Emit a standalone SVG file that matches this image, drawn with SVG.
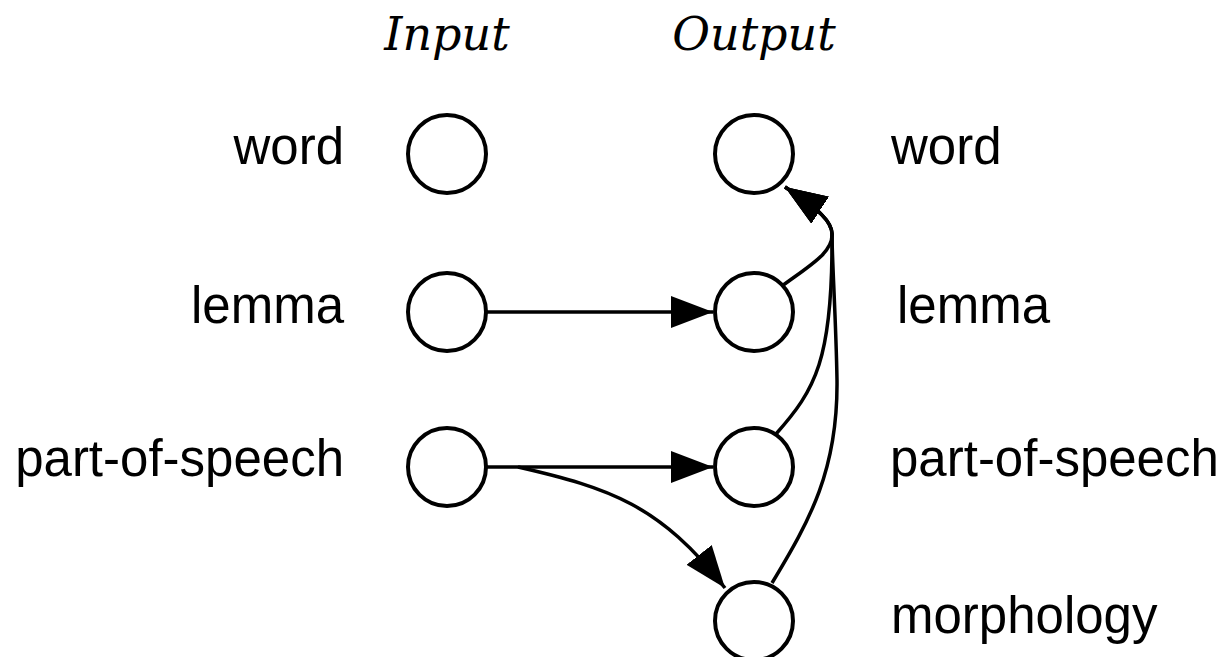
<svg xmlns="http://www.w3.org/2000/svg" width="1224" height="657" viewBox="0 0 1224 657">
<style>
.node circle{fill:#fff;stroke:#000;stroke-width:4}
.lbl{font-family:"Liberation Sans",Arial,sans-serif;font-size:51px;fill:#000}
.ttl{font-family:"DejaVu Serif",serif;font-style:italic;font-size:46px;fill:#000}
.edge{fill:none;stroke:#000;stroke-width:3.5}
</style>
<defs>
<marker id="arr" markerUnits="userSpaceOnUse" markerWidth="44" markerHeight="34" refX="42" refY="16" orient="auto" viewBox="0 0 44 34">
<path d="M0,0 L42,16 L0,32 z" fill="#000"/>
</marker>
</defs>
<rect width="1224" height="657" fill="#fff"/>
<text class="ttl" x="447" y="50" text-anchor="middle">Input</text>
<text class="ttl" x="754" y="50" text-anchor="middle">Output</text>
<g id="labels-left">
<text class="lbl" x="344" y="164" text-anchor="end">word</text>
<text class="lbl" x="344" y="323" text-anchor="end">lemma</text>
<text class="lbl" x="344" y="476" text-anchor="end">part-of-speech</text>
</g>
<g id="labels-right">
<text class="lbl" x="891" y="164">word</text>
<text class="lbl" x="897" y="323">lemma</text>
<text class="lbl" x="890" y="476">part-of-speech</text>
<text class="lbl" x="891" y="633">morphology</text>
</g>
<g id="connectors">
<path class="edge" d="M486,312 L713,312" marker-end="url(#arr)"/>
<path class="edge" d="M486,467 L713,467" marker-end="url(#arr)"/>
<path class="edge" d="M518,467 C610,488 660,505 725,588" marker-end="url(#arr)"/>
<path class="edge" d="M782,286 C812,264 833,252 832,234 C832,222 820,210 785,187" marker-end="url(#arr)"/>
<path class="edge" d="M776,434 C815,390 833,360 832,234 C832,222 820,210 785,187" marker-end="url(#arr)"/>
<path class="edge" d="M772,583 C810,520 838,470 837,380 C836,320 832,260 832,234 C832,222 820,210 785,187" marker-end="url(#arr)"/>
</g>
<g id="in-word" class="node"><circle cx="447" cy="154" r="39"/></g>
<g id="in-lemma" class="node"><circle cx="447" cy="312" r="39"/></g>
<g id="in-pos" class="node"><circle cx="447" cy="467" r="39"/></g>
<g id="out-word" class="node"><circle cx="754" cy="154" r="39"/></g>
<g id="out-lemma" class="node"><circle cx="754" cy="312" r="39"/></g>
<g id="out-pos" class="node"><circle cx="754" cy="467" r="39"/></g>
<g id="out-morph" class="node"><circle cx="754" cy="621" r="39"/></g>
</svg>
